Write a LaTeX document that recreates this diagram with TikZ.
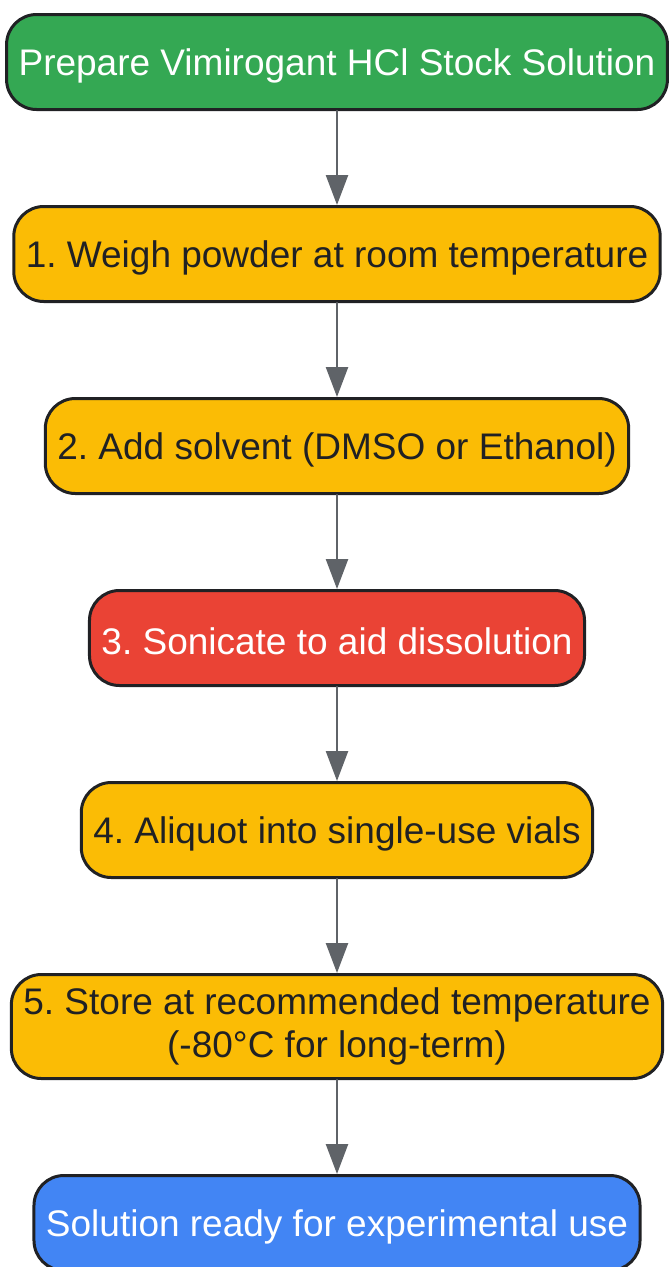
\documentclass[tikz,border=0pt]{standalone}
\usepackage{fontspec}
\setmainfont{Liberation Sans}
\frenchspacing
\usetikzlibrary{positioning,arrows.meta}
\definecolor{gstart}{HTML}{34A853}
\definecolor{gstep}{HTML}{FBBC05}
\definecolor{gsonic}{HTML}{EA4335}
\definecolor{gdone}{HTML}{4285F4}
\definecolor{ink}{HTML}{202124}
\definecolor{wire}{HTML}{5F6368}
\begin{document}
\begin{tikzpicture}[
    line cap=round,
    node distance=94pt,
    every node/.style={font=\fontsize{37}{43}\selectfont},
    box/.style={draw=ink, line width=3pt, rounded corners=30pt,
      minimum height=95pt, inner xsep=12pt, align=center,
      execute at begin node={\rule{0pt}{0.92em}}},
    stepbox/.style={box, fill=gstep, text=ink},
    link/.style={draw=wire, line width=2.5pt,
      -{Triangle[width=22pt,length=30pt]}}
]
  \useasboundingbox (0,0) rectangle (671pt,-1267pt);
  \node[box, fill=gstart, text=white] (prep) at (337pt,-62pt)
    {Prepare Vimirogant HCl Stock Solution};
  \node[stepbox, below=of prep] (weigh)
    {1. Weigh powder at room temperature};
  \node[stepbox, below=of weigh] (solv)
    {2. Add solvent (DMSO or Ethanol)};
  \node[box, fill=gsonic, text=white, below=of solv] (sonic)
    {3. Sonicate to aid dissolution};
  \node[stepbox, below=of sonic] (aliq)
    {4. Aliquot into single-use vials};
  \node[stepbox, below=of aliq, minimum height=104pt] (store)
    {5. Store at recommended temperature\\(-80°C for long-term)};
  \node[box, fill=gdone, text=white, below=of store] (ready)
    {Solution ready for experimental use};

  % arrows
  \foreach \a/\b in {prep/weigh, weigh/solv, solv/sonic,
                     sonic/aliq, aliq/store, store/ready}
    \draw[link] (\a) -- (\b);
\end{tikzpicture}
\end{document}
